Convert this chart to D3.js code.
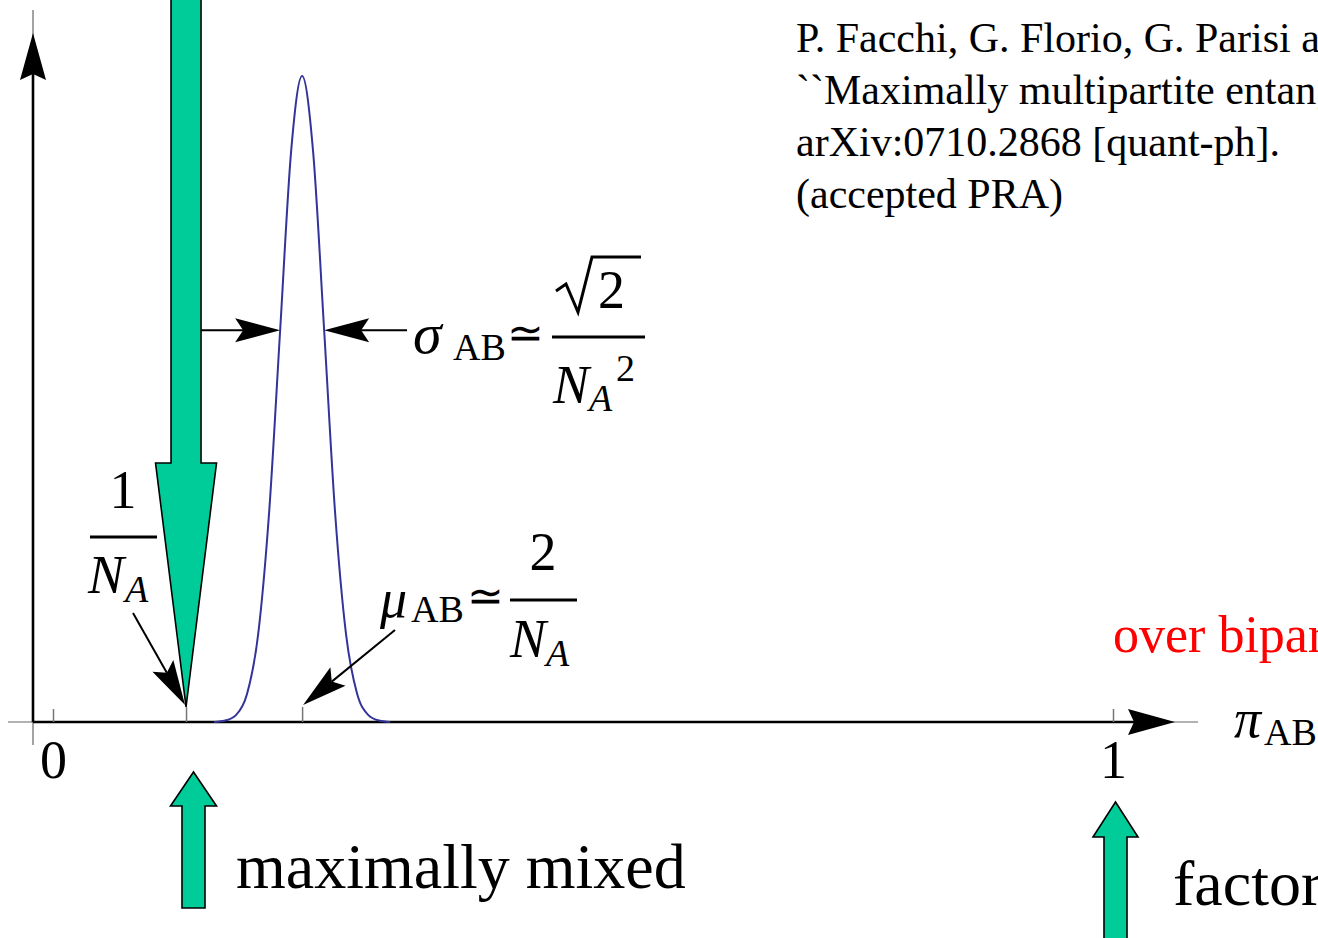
<!DOCTYPE html>
<html>
<head>
<meta charset="utf-8">
<script src="https://cdn.jsdelivr.net/npm/d3@7"></script>
<style>
  body { margin: 0; background: #fff; }
  svg { display: block; }
  text { font-family: "Liberation Serif", "Times New Roman", serif; fill: #000; }
  .it { font-style: italic; }
</style>
</head>
<body>
<div id="chart-area"><svg></svg></div>
<script>
// distribution of pi_AB (peak normalised to 1)
const curveX = [0.152, 0.1624, 0.1728, 0.1831, 0.1935, 0.2039, 0.2143, 0.2246, 0.235,
  0.2454, 0.2558, 0.2661, 0.2765, 0.2869, 0.2973, 0.3076, 0.318];
const curveY = [0, 0.0022, 0.0111, 0.0439, 0.1353, 0.3247, 0.6065, 0.8825, 1,
  0.8825, 0.6065, 0.3247, 0.1353, 0.0439, 0.0111, 0.0022, 0];

const xTicks = [0, 1];
const xTickLabels = ["0", "1"];
const markX = [0.1255, 0.235];      // 1/N_A and mu_AB
const sigmaX = [0.2143, 0.2558];    // mu -/+ sigma
const sigmaLevel = 0.6065;

const citation = [
  "P. Facchi, G. Florio, G. Parisi and S. Pascazio,",
  "``Maximally multipartite entangled states,''",
  "arXiv:0710.2868 [quant-ph].",
  "(accepted PRA)"
];

const chartSize = { width: 1318, height: 938 };
const green = "#00cc99";

const svg = d3.select("#chart-area svg")
  .attr("width", chartSize.width)
  .attr("height", chartSize.height);

const x = d3.scaleLinear().domain([0, 1]).range([53, 1113]);
const y = d3.scaleLinear().domain([0, 1]).range([722, 76]);
const y0 = y(0);
const yAxisX = 33;

// arrow head with slightly hollow back, tip at (x2,y2)
const headPath = (x1, y1, x2, y2, len, half, notch) => {
  const a = Math.atan2(y2 - y1, x2 - x1);
  const ux = Math.cos(a), uy = Math.sin(a);
  const bx = x2 - ux * len, by = y2 - uy * len;
  const nx = x2 - ux * (len - notch), ny = y2 - uy * (len - notch);
  return `M${x2},${y2}L${bx - uy * half},${by + ux * half}L${nx},${ny}L${bx + uy * half},${by - ux * half}Z`;
};

const lineArrow = (x1, y1, x2, y2, len = 45, half = 12, notch = 8) => {
  const a = Math.atan2(y2 - y1, x2 - x1);
  svg.append("line")
    .attr("x1", x1).attr("y1", y1)
    .attr("x2", x2 - Math.cos(a) * (len - notch)).attr("y2", y2 - Math.sin(a) * (len - notch))
    .attr("stroke", "#000").attr("stroke-width", 2);
  svg.append("path").attr("d", headPath(x1, y1, x2, y2, len, half, notch)).attr("fill", "#000");
};

// vertical block arrow (green)
const blockArrow = (cx, tipY, baseY, tailY, headHalf, shaftHalf) => {
  const pts = [
    [cx, tipY], [cx + headHalf, baseY], [cx + shaftHalf, baseY], [cx + shaftHalf, tailY],
    [cx - shaftHalf, tailY], [cx - shaftHalf, baseY], [cx - headHalf, baseY]
  ];
  svg.append("path")
    .attr("d", d3.line()(pts) + "Z")
    .attr("fill", green).attr("stroke", "#000").attr("stroke-width", 1.6)
    .attr("stroke-linejoin", "miter");
};

// axes: thin grey full line, thick black part, arrow heads
svg.append("line").attr("x1", 8).attr("x2", 1198).attr("y1", y0).attr("y2", y0)
  .attr("stroke", "#666").attr("stroke-width", 1.2);
svg.append("line").attr("x1", yAxisX).attr("x2", yAxisX).attr("y1", 10).attr("y2", 745)
  .attr("stroke", "#666").attr("stroke-width", 1.2);
svg.append("line").attr("x1", yAxisX).attr("x2", 1140).attr("y1", y0).attr("y2", y0)
  .attr("stroke", "#000").attr("stroke-width", 2.6);
svg.append("line").attr("x1", yAxisX).attr("x2", yAxisX).attr("y1", y0).attr("y2", 70)
  .attr("stroke", "#000").attr("stroke-width", 2.6);
svg.append("path").attr("d", headPath(0, y0, 1175, y0, 47, 13, 6)).attr("fill", "#000");
svg.append("path").attr("d", headPath(yAxisX, 700, yAxisX, 33, 47, 13, 6)).attr("fill", "#000");

const xAxis = d3.axisBottom(x)
  .tickValues(xTicks)
  .tickFormat((d, i) => xTickLabels[i])
  .tickSize(-13);
const gx = svg.append("g").attr("class", "x axis")
  .attr("transform", `translate(0,${y0})`)
  .call(xAxis);
gx.select(".domain").remove();
gx.selectAll(".tick line").attr("stroke", "#777").attr("stroke-width", 1.5);
gx.selectAll(".tick text")
  .attr("y", 56).attr("dy", null)
  .attr("font-family", null)
  .style("font-size", "54px");

const markAxis = d3.axisBottom(x).tickValues(markX).tickFormat("").tickSize(-15);
const gm = svg.append("g").attr("transform", `translate(0,${y0})`).call(markAxis);
gm.select(".domain").remove();
gm.selectAll(".tick line").attr("stroke", "#777").attr("stroke-width", 1.5);

// distribution
const curve = curveX.map((d, i) => [d, curveY[i]]);
svg.append("path")
  .attr("d", d3.line().x(d => x(d[0])).y(d => y(d[1])).curve(d3.curveMonotoneX)(curve))
  .attr("fill", "none").attr("stroke", "#333399").attr("stroke-width", 2);

// green arrows
blockArrow(x(markX[0]), 707, 463, -10, 30.5, 15);
blockArrow(193.5, 772, 806, 908, 23, 11.5);
blockArrow(1115.5, 802, 837, 960, 22.5, 11.5);

// width arrows
const sy = y(sigmaLevel);
lineArrow(201, sy, x(sigmaX[0]), sy);
lineArrow(407, sy, x(sigmaX[1]), sy);

// pointer arrows
lineArrow(133, 613, x(markX[0]) - 1, 705);
lineArrow(395, 630, x(markX[1]) + 1, 705);

const text = (tx, ty, s, size, cls, anchor) => svg.append("text")
  .attr("x", tx).attr("y", ty).attr("class", cls || null)
  .attr("text-anchor", anchor || "start")
  .style("font-size", size + "px").text(s);

const bar = (x1, x2, yy) => svg.append("line")
  .attr("x1", x1).attr("x2", x2).attr("y1", yy).attr("y2", yy)
  .attr("stroke", "#000").attr("stroke-width", 3);

// 1/N_A
text(123, 508, "1", 54, null, "middle");
bar(90, 157, 537);
text(88, 593, "N", 54, "it");
text(125, 602, "A", 38, "it");

// sigma label
text(413, 353, "σ", 58, "it");
text(453, 360, "AB", 38);
text(507, 348, "≃", 44);
bar(552, 645, 337);
svg.append("path")
  .attr("d", "M556,291L566,284L578,312L592,257L641,257")
  .attr("fill", "none").attr("stroke", "#000").attr("stroke-width", 3)
  .attr("stroke-linejoin", "miter");
text(598, 308, "2", 54);
text(553, 403, "N", 54, "it");
text(589, 411, "A", 38, "it");
text(616, 381, "2", 38);

// mu label
text(380, 617, "μ", 54, "it");
text(411, 622, "AB", 38);
text(467, 611, "≃", 44);
bar(510, 577, 600);
text(543, 570, "2", 54, null, "middle");
text(510, 657, "N", 54, "it");
text(546, 666, "A", 38, "it");

// axis label
text(1234, 737, "π", 54, "it");
text(1264, 745, "AB", 38);

// captions
text(236, 888, "maximally mixed", 64);
text(1173, 905, "factorized", 64);
text(1113, 652, "over bipartitions", 52).style("fill", "#ff0000");

citation.forEach((s, i) => text(796, 52 + i * 52, s, 42));
</script>
</body>
</html>
